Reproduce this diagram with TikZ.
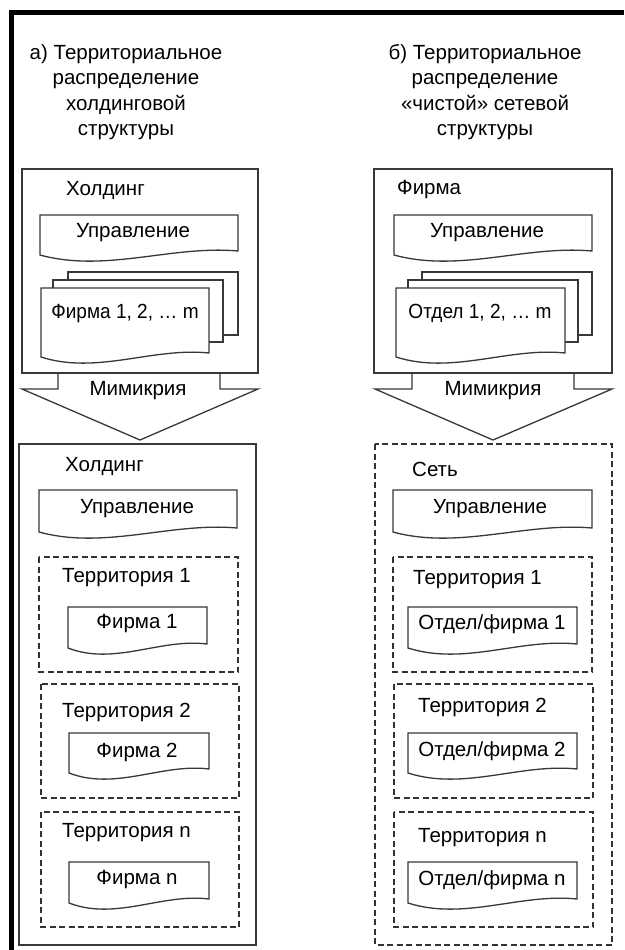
\documentclass[tikz,border=0pt]{standalone}
\usepackage{fontspec}
\setmainfont{Liberation Sans}
\newfontfamily\narrowsans[FakeStretch=0.93]{Liberation Sans}
\usetikzlibrary{calc}

% document-like sheet with a wavy lower edge: x0, ytop, x1, ybottom(left)
\newcommand\docshape[4]{%
  \draw[boxline,fill=white] ({#1},{#2}) -- ({#3},{#2}) -- ({#3},{#4-4})
    .. controls ({#1+2*(#3-#1)/3},{#4-10}) and ({#1+(#3-#1)/3},{#4+18}) .. ({#1},{#4}) -- cycle;}

\tikzset{
  boxline/.style={draw=black!78, line width=1.3pt},
  dashline/.style={draw=black!80, line width=1.3pt, dash pattern=on 6pt off 3.5pt},
  lbl/.style={inner sep=0pt, text=black, font=\fontsize{20.5}{25.5}\selectfont},
  narrowlbl/.style={lbl, font=\fontsize{20.5}{25.5}\narrowsans},
  frameline/.style={draw=black, line width=5pt}
}

\begin{document}
\begin{tikzpicture}[x=1pt,y=-1pt]
\useasboundingbox (0,0) rectangle (624,950);
\fill[white] (0,0) rectangle (624,950);

% outer frame (top and left only)
\draw[frameline] (11,950) -- (11,13) -- (624,13);

% ---------------- left column: holding ----------------
\node[lbl,align=center] (titleA) at (126,92) {а) Территориальное\\распределение\\холдинговой\\структуры};

\draw[boxline] (22,169) rectangle (258,373);
\node[lbl,anchor=west] (holdA) at (66,190) {Холдинг};
\docshape{40}{215}{238}{255}
\node[lbl] (mgmtA) at (133,233) {Управление};
\draw[boxline,fill=white] (68,272) rectangle (238,335);
\draw[boxline,fill=white] (53,280) rectangle (223,342);
\docshape{41}{288}{209}{357}
\node[narrowlbl] (firmsA) at (125,313) {Фирма 1, 2, … m};

% transition arrow
\draw[boxline,fill=white] (58,373) -- (58,389) -- (22,389) -- (140,440) -- (258,389) -- (220,389) -- (220,373);
\draw[boxline] (22,373) -- (258,373);
\node[lbl] (mimA) at (138,391) {Мимикрия};

\draw[boxline] (19,444) rectangle (256,945);
\node[lbl,anchor=west] (holdA2) at (65,466) {Холдинг};
\docshape{39}{490}{237}{532}
\node[lbl] (mgmtA2) at (137,509) {Управление};

\draw[dashline] (39,557) rectangle (238,672);
\node[lbl,anchor=west] (terA1) at (62,578) {Территория 1};
\docshape{68}{607}{207}{648}
\node[lbl] (firmA1) at (137,624) {Фирма 1};

\draw[dashline] (41,684) rectangle (239,798);
\node[lbl,anchor=west] (terA2) at (62,712) {Территория 2};
\docshape{69}{733}{209}{773}
\node[lbl] (firmA2) at (137,752) {Фирма 2};

\draw[dashline] (41,812) rectangle (239,927);
\node[lbl,anchor=west] (terAn) at (62,833) {Территория n};
\docshape{69}{862}{209}{903}
\node[lbl] (firmAn) at (137,880) {Фирма n};

% ---------------- right column: network ----------------
\node[lbl,align=center] (titleB) at (485,92) {б) Территориальное\\распределение\\«чистой» сетевой\\структуры};

\draw[boxline] (374,169) rectangle (612,373);
\node[lbl,anchor=west] (firmB) at (397,190) {Фирма};
\docshape{394}{215}{592}{255}
\node[lbl] (mgmtB) at (487,233) {Управление};
\draw[boxline,fill=white] (422,272) rectangle (592,335);
\draw[boxline,fill=white] (408,280) rectangle (578,342);
\docshape{396}{288}{565}{357}
\node[narrowlbl] (deptsB) at (480,313) {Отдел 1, 2, … m};

\draw[boxline,fill=white] (412,373) -- (412,389) -- (375,389) -- (493,440) -- (612,389) -- (574,389) -- (574,373);
\draw[boxline] (374,373) -- (612,373);
\node[lbl] (mimB) at (493,391) {Мимикрия};

\draw[dashline] (375,444) rectangle (612,945);
\node[lbl,anchor=west] (netB) at (412,469) {Сеть};
\docshape{393}{490}{592}{532}
\node[lbl] (mgmtB2) at (490,509) {Управление};

\draw[dashline] (393,557) rectangle (592,672);
\node[lbl,anchor=west] (terB1) at (413,580) {Территория 1};
\docshape{408}{607}{577}{648}
\node[lbl] (deptB1) at (492,624) {Отдел/фирма 1};

\draw[dashline] (394,684) rectangle (593,798);
\node[lbl,anchor=west] (terB2) at (418,707) {Территория 2};
\docshape{408}{733}{577}{773}
\node[lbl] (deptB2) at (492,751) {Отдел/фирма 2};

\draw[dashline] (394,812) rectangle (593,927);
\node[lbl,anchor=west] (terBn) at (418,838) {Территория n};
\docshape{408}{862}{577}{903}
\node[lbl] (deptBn) at (492,880) {Отдел/фирма n};
\end{tikzpicture}
\end{document}
